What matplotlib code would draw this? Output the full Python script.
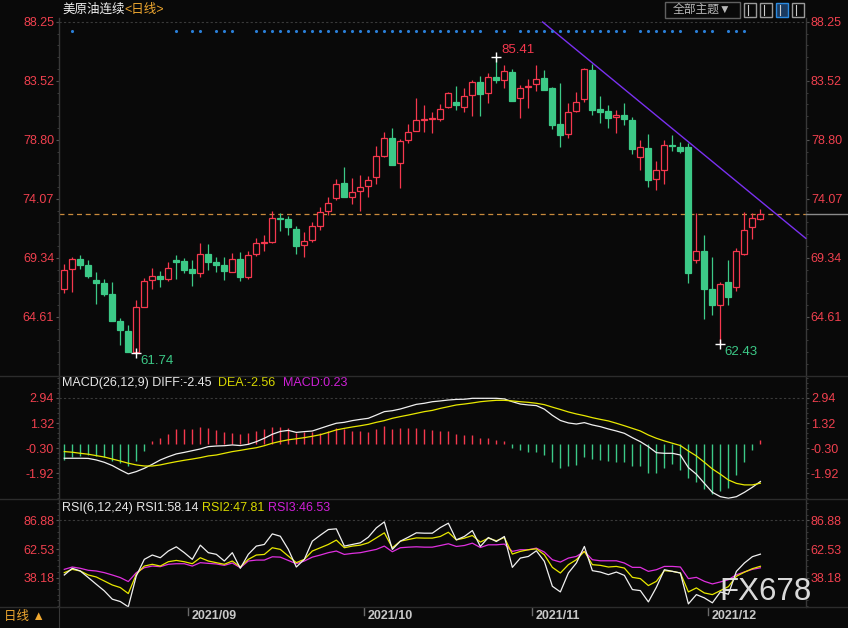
import matplotlib
matplotlib.use('Agg')
import matplotlib.pyplot as plt
import matplotlib.transforms as mtrans
from matplotlib.patches import Rectangle
from matplotlib.lines import Line2D
from matplotlib.ticker import FixedLocator, AutoMinorLocator

plt.rcParams['font.family'] = ['Liberation Sans', 'Noto Sans CJK SC', 'DejaVu Sans']

# ---------------- data ----------------
opens = [66.81, 68.42, 69.25, 68.76, 67.56, 67.32, 66.44, 64.27, 63.47, 61.81,
         65.42, 67.53, 67.88, 67.67, 69.17, 69.08, 68.44, 68.15, 69.65, 69.00,
         68.76, 68.23, 69.25, 67.83, 69.62, 70.55, 70.63, 72.53, 72.42, 71.62,
         70.34, 70.74, 71.86, 73.12, 74.11, 75.31, 74.24, 74.67, 75.07, 75.79,
         77.47, 78.92, 76.91, 78.76, 79.48, 80.42, 80.45, 80.50, 81.41, 81.84,
         81.46, 82.37, 83.44, 82.53, 83.84, 83.63, 84.24, 82.19, 83.01, 83.25,
         83.74, 82.93, 80.05, 79.30, 81.08, 82.04, 84.40, 81.27, 81.11, 80.60,
         80.79, 80.39, 77.39, 78.14, 75.63, 76.35, 78.35, 78.19, 78.22, 69.13,
         69.88, 66.83, 65.52, 67.40, 66.97, 69.61, 71.78, 72.42]
highs = [68.84, 69.38, 69.54, 69.17, 68.20, 67.64, 67.40, 64.51, 63.95, 65.96,
         67.72, 68.52, 68.28, 69.00, 69.57, 69.33, 69.17, 70.53, 70.45, 69.38,
         69.38, 69.73, 69.81, 69.89, 70.90, 71.17, 73.09, 72.90, 72.69, 71.89,
         71.41, 72.18, 73.41, 74.21, 75.66, 76.62, 75.74, 75.95, 75.87, 78.30,
         79.43, 79.75, 78.84, 80.07, 82.15, 81.57, 81.04, 81.68, 82.61, 83.12,
         82.96, 83.60, 83.92, 84.16, 85.41, 84.81, 84.48, 83.20, 83.65, 84.80,
         84.40, 83.07, 83.36, 81.73, 82.61, 84.53, 84.88, 82.31, 81.59, 81.19,
         81.72, 80.63, 78.78, 79.26, 77.10, 78.78, 79.18, 78.60, 78.54, 72.90,
         71.16, 69.40, 67.42, 69.16, 70.12, 72.98, 72.90, 73.22]
lows = [66.54, 66.63, 68.47, 67.69, 65.66, 66.28, 64.28, 62.37, 61.78, 61.74,
        65.37, 66.87, 67.03, 67.51, 67.64, 68.15, 67.08, 67.80, 68.36, 68.20,
        67.59, 68.20, 67.51, 67.67, 69.51, 69.91, 70.55, 71.51, 71.19, 69.67,
        69.38, 70.63, 71.59, 72.80, 73.97, 74.24, 73.65, 73.12, 74.24, 75.28,
        77.45, 76.81, 74.96, 78.57, 79.48, 79.46, 79.38, 80.34, 81.36, 81.22,
        81.06, 80.74, 80.74, 81.78, 83.39, 82.99, 81.94, 80.58, 81.38, 82.75,
        82.83, 79.70, 78.26, 78.98, 81.03, 81.80, 80.81, 80.17, 79.77, 79.32,
        80.01, 77.69, 76.40, 75.04, 74.75, 75.28, 77.90, 77.77, 67.34, 68.89,
        64.40, 64.78, 62.43, 65.58, 66.70, 69.53, 70.87, 72.34]
closes = [68.36, 69.25, 68.79, 67.91, 67.35, 66.46, 64.30, 63.58, 61.80, 65.37,
          67.45, 67.86, 67.67, 68.50, 69.00, 68.36, 68.12, 69.65, 69.03, 68.76,
          68.28, 69.22, 67.83, 69.54, 70.50, 70.60, 72.50, 72.48, 71.83, 70.31,
          70.66, 71.86, 73.04, 73.76, 75.23, 74.24, 74.59, 74.99, 75.55, 77.47,
          78.92, 76.81, 78.70, 79.40, 80.36, 80.47, 80.53, 81.25, 82.53, 81.62,
          82.29, 83.42, 82.51, 83.82, 83.63, 84.30, 81.94, 82.93, 83.09, 83.65,
          82.83, 80.02, 79.22, 81.01, 81.80, 84.45, 81.22, 81.05, 80.57, 80.76,
          80.49, 78.09, 78.19, 75.60, 76.35, 78.35, 78.27, 77.93, 68.14, 69.85,
          66.86, 65.58, 67.21, 66.17, 69.85, 71.54, 72.50, 72.86]

diff = [-0.95, -0.95, -0.95, -0.96, -1.06, -1.21, -1.42, -1.70, -1.96, -1.81,
        -1.60, -1.34, -1.06, -0.85, -0.67, -0.57, -0.46, -0.35, -0.20, -0.16,
        -0.14, -0.09, -0.13, -0.05, 0.12, 0.34, 0.60, 0.78, 0.85, 0.72,
        0.77, 0.81, 0.98, 1.15, 1.31, 1.37, 1.48, 1.56, 1.63, 1.84,
        2.06, 2.12, 2.23, 2.38, 2.53, 2.60, 2.70, 2.75, 2.81, 2.85,
        2.86, 2.92, 2.92, 2.92, 2.92, 2.88, 2.70, 2.55, 2.49, 2.45,
        2.22, 1.82, 1.49, 1.33, 1.26, 1.35, 1.20, 1.09, 0.94, 0.81,
        0.66, 0.38, 0.12, -0.20, -0.59, -0.63, -0.63, -0.74, -1.55, -1.98,
        -2.57, -3.15, -3.43, -3.53, -3.43, -3.15, -2.82, -2.45]
dea = [-0.52, -0.56, -0.63, -0.69, -0.78, -0.87, -1.00, -1.13, -1.27, -1.38,
       -1.45, -1.45, -1.38, -1.27, -1.17, -1.08, -1.00, -0.91, -0.80, -0.74,
       -0.63, -0.52, -0.44, -0.35, -0.27, -0.14, 0.02, 0.14, 0.24, 0.31,
       0.38, 0.47, 0.57, 0.72, 0.88, 0.98, 1.07, 1.15, 1.24, 1.37,
       1.48, 1.63, 1.74, 1.84, 1.95, 2.06, 2.14, 2.27, 2.38, 2.49,
       2.55, 2.62, 2.70, 2.75, 2.79, 2.79, 2.75, 2.70, 2.66, 2.60,
       2.51, 2.35, 2.20, 2.04, 1.91, 1.80, 1.67, 1.56, 1.46, 1.31,
       1.15, 0.98, 0.81, 0.55, 0.34, 0.17, 0.02, -0.13, -0.48, -0.80,
       -1.21, -1.64, -1.98, -2.35, -2.57, -2.67, -2.67, -2.56]
macd_hist = [-1.05, -0.88, -0.80, -0.73, -0.80, -0.90, -1.12, -1.27, -1.48, -1.12,
             -0.47, 0.15, 0.34, 0.62, 0.92, 0.95, 0.92, 1.05, 0.99, 0.88,
             0.77, 0.71, 0.60, 0.67, 0.82, 0.92, 1.10, 1.10, 1.03, 0.67,
             0.77, 0.73, 0.71, 0.80, 0.99, 0.92, 0.82, 0.82, 0.73, 0.95,
             1.14, 0.95, 0.99, 1.03, 0.99, 0.95, 0.88, 0.82, 0.82, 0.60,
             0.56, 0.56, 0.39, 0.39, 0.24, 0.17, -0.26, -0.41, -0.52, -0.52,
             -0.73, -1.16, -1.55, -1.48, -1.38, -0.90, -0.99, -1.05, -1.12, -1.16,
             -1.20, -1.42, -1.48, -1.91, -1.87, -1.55, -1.33, -1.70, -2.24, -2.49,
             -2.92, -3.27, -3.05, -2.88, -2.06, -1.16, -0.41, 0.23]

rsi1 = [40.4, 46.1, 43.8, 38.2, 32.5, 26.9, 19.8, 17.8, 13.3, 39.6,
        53.7, 57.4, 55.1, 60.8, 64.4, 59.4, 53.7, 65.8, 59.4, 58.0,
        52.3, 59.4, 46.1, 58.0, 65.0, 66.4, 75.4, 73.4, 62.2, 47.2,
        53.7, 69.2, 74.3, 79.1, 79.7, 65.0, 66.4, 67.8, 72.6, 80.5,
        85.6, 62.2, 69.2, 72.6, 76.3, 76.0, 76.0, 80.8, 84.5, 70.3,
        73.2, 78.2, 64.7, 72.3, 68.9, 73.2, 46.9, 54.8, 56.2, 61.0,
        52.0, 30.8, 26.0, 42.1, 50.6, 64.7, 44.1, 42.9, 40.7, 42.9,
        40.1, 28.0, 27.1, 17.5, 29.9, 44.9, 43.5, 42.1, 15.8, 23.7,
        20.9, 16.7, 26.0, 24.0, 43.5, 50.6, 56.0, 58.14]
rsi2 = [42.4, 45.2, 43.8, 40.4, 38.7, 35.3, 31.9, 29.7, 24.6, 41.0,
        48.0, 49.5, 48.0, 51.7, 52.8, 51.7, 50.0, 55.1, 52.3, 50.9,
        49.5, 52.3, 47.2, 53.7, 57.4, 57.9, 63.6, 62.2, 56.5, 50.9,
        53.7, 60.8, 63.6, 66.4, 70.1, 63.6, 65.0, 65.8, 67.8, 72.0,
        76.3, 63.6, 69.2, 70.6, 72.0, 71.8, 71.8, 73.2, 76.8, 70.3,
        71.8, 74.0, 68.4, 71.8, 69.5, 72.3, 58.2, 60.5, 61.9, 62.7,
        57.6, 46.9, 42.1, 49.2, 53.4, 60.5, 49.2, 48.6, 47.2, 47.7,
        46.3, 38.4, 37.3, 31.4, 35.0, 44.1, 43.5, 42.1, 26.0, 29.4,
        25.1, 23.7, 27.1, 30.5, 39.3, 42.8, 45.8, 47.81]
rsi3 = [45.2, 47.2, 46.1, 44.4, 43.8, 42.4, 40.4, 38.2, 34.8, 42.4,
        46.6, 48.0, 47.5, 49.5, 50.0, 50.0, 48.0, 50.9, 50.3, 49.8,
        48.6, 50.6, 46.6, 52.3, 53.1, 53.1, 55.9, 55.6, 52.8, 50.0,
        52.3, 55.6, 57.4, 59.4, 60.8, 57.9, 58.8, 59.4, 60.8, 62.2,
        65.0, 60.2, 63.6, 64.1, 64.4, 64.1, 64.1, 65.5, 67.0, 64.7,
        65.5, 67.5, 63.8, 66.1, 66.1, 66.7, 60.5, 61.9, 61.9, 63.3,
        59.9, 53.4, 51.4, 54.8, 56.2, 60.5, 53.4, 52.5, 52.5, 52.5,
        50.6, 46.9, 46.9, 43.5, 44.9, 47.7, 47.7, 47.2, 37.3, 38.4,
        35.0, 32.8, 34.5, 36.4, 40.6, 43.0, 45.2, 46.53]

signal_dots = ([1, 14, 16, 17, 19, 20, 21] + list(range(24, 53)) + [54, 55]
               + list(range(57, 71)) + list(range(72, 78)) + [79, 80, 81] + [83, 84, 85])

month_starts = [16, 38, 59, 81]
month_labels = ['2021/09', '2021/10', '2021/11', '2021/12']

main_ticks = [88.25, 83.52, 78.80, 74.07, 69.34, 64.61]
macd_ticks = [2.94, 1.32, -0.30, -1.92]
rsi_ticks = [86.88, 62.53, 38.18]

trend_x = [59.78, 92.67]
trend_y = [88.25, 70.90]

hi_idx, lo1_idx, lo2_idx = 54, 9, 82

# ---------------- style ----------------
BG = '#090909'
RED = '#f5384e'
GREEN = '#3cc987'
TICKRED = '#f0404e'
GRID = '#3a3a3a'
W, H = 848, 628

fig = plt.figure(figsize=(W / 100, H / 100), dpi=100, facecolor=BG)


def pos(x0, y0, x1, y1):
    return [x0 / W, 1 - y1 / H, (x1 - x0) / W, (y1 - y0) / H]


n = len(closes)
idx = list(range(n))
XL = (-0.66, 92.7)


def style_ax(ax, ticks, labels):
    ax.set_facecolor(BG)
    ax.set_xlim(*XL)
    for s in ['top', 'bottom']:
        ax.spines[s].set_visible(False)
    for s in ['left', 'right']:
        ax.spines[s].set_color('#383838')
        ax.spines[s].set_linewidth(1)
    ax.set_xticks([])
    ax.yaxis.set_major_locator(FixedLocator(ticks))
    ax.set_yticklabels(labels)
    ax.yaxis.set_minor_locator(AutoMinorLocator(5))
    ax.tick_params(axis='y', which='major', left=True, right=True, labelleft=True,
                   labelright=True, length=2.5, width=0.8, color='#555555',
                   labelcolor=TICKRED, labelsize=9, pad=1)
    ax.tick_params(axis='y', which='minor', left=True, right=True, length=1.5,
                   width=0.6, color='#444444')


# ---- main candlestick panel ----
ax = fig.add_axes(pos(59, 18, 806, 376))
ax.set_ylim(59.86, 88.57)
style_ax(ax, main_ticks, ['%.2f' % t for t in main_ticks])
ax.axhline(main_ticks[0], color=GRID, lw=0.8, dashes=(2, 2))

bw = 0.75
for i in idx:
    o, h, l, c = opens[i], highs[i], lows[i], closes[i]
    if c >= o:
        ax.add_patch(Rectangle((i - bw / 2, o), bw, max(c - o, 0.02), facecolor=BG,
                               edgecolor=RED, lw=0.9, zorder=3))
        ax.plot([i, i], [c, h], color=RED, lw=0.9, zorder=2, solid_capstyle='butt')
        ax.plot([i, i], [l, o], color=RED, lw=0.9, zorder=2, solid_capstyle='butt')
    else:
        ax.plot([i, i], [l, h], color=GREEN, lw=0.9, zorder=2, solid_capstyle='butt')
        ax.add_patch(Rectangle((i - bw / 2, c), bw, max(o - c, 0.02), facecolor=GREEN,
                               edgecolor=GREEN, lw=0.9, zorder=3))

ax.axhline(closes[-1], color='#c98a3c', lw=0.9, dashes=(4, 3), zorder=1)
ax.plot(trend_x, trend_y, color='#7a30f0', lw=1.0, zorder=4, clip_on=False)

blend = mtrans.blended_transform_factory(ax.transData, ax.transAxes)
ax.scatter(signal_dots, [0.9637] * len(signal_dots), transform=blend, s=5,
           marker='o', color='#2a7fd8', linewidths=0, zorder=5)

for k, col, off in [(hi_idx, RED, (22, 7)), (lo1_idx, GREEN, (21, -8)), (lo2_idx, GREEN, (21, -8))]:
    yv = highs[k] if k == hi_idx else lows[k]
    ax.plot([k], [yv], marker='+', color='white', ms=7, mew=1.0, zorder=6)
    ax.annotate('%.2f' % yv, xy=(k, yv), xytext=off, textcoords='offset pixels',
                color=col, fontsize=9.5, ha='center', va='center', zorder=6)

# ---- MACD panel ----
axm = fig.add_axes(pos(59, 376, 806, 499))
axm.set_ylim(-3.58, 4.36)
style_ax(axm, macd_ticks, ['%.2f' % t for t in macd_ticks])
axm.axhline(macd_ticks[0], color=GRID, lw=0.8, dashes=(2, 2))
axm.vlines(idx, 0, macd_hist, colors=[RED if v > 0 else GREEN for v in macd_hist], lw=1.0)
axm.plot(idx, diff, color='#f0f0f0', lw=0.9)
axm.plot(idx, dea, color='#e8e800', lw=0.9)

# ---- RSI panel ----
axr = fig.add_axes(pos(59, 499, 806, 607))
axr.set_ylim(13.15, 105.1)
style_ax(axr, rsi_ticks, ['%.2f' % t for t in rsi_ticks])
axr.axhline(rsi_ticks[0], color=GRID, lw=0.8, dashes=(2, 2))
axr.plot(idx, rsi3, color='#e030e0', lw=0.9, clip_on=False)
axr.plot(idx, rsi2, color='#e8e800', lw=0.9, clip_on=False)
axr.plot(idx, rsi1, color='#f0f0f0', lw=0.9, clip_on=False)

# ---- date strip ----
axd = fig.add_axes(pos(59, 607, 806, 628))
axd.set_facecolor(BG)
axd.set_xlim(*XL)
axd.set_ylim(0, 1)
axd.set_xticks([])
axd.set_yticks([])
for s in ['top', 'bottom', 'right']:
    axd.spines[s].set_visible(False)
axd.spines['left'].set_color('#383838')
for m, lab in zip(month_starts, month_labels):
    axd.plot([m - 0.5, m - 0.5], [1, 0.6], color='#6a6a6a', lw=1)
    axd.annotate(lab, xy=(m - 0.5, 0.55), xytext=(3, 0), textcoords='offset pixels',
                 color='#c8c8c8', fontsize=9, fontweight='bold', ha='left', va='center')

# ---- separators ----
for yy in [376, 499, 607]:
    fig.add_artist(Line2D([0, 1], [1 - yy / H, 1 - yy / H], color='#2c2c2c', lw=1))

# extension of last price line into right axis
fig.canvas.draw()
ypix = ax.transData.transform((0, closes[-1]))[1]
fig.add_artist(Line2D([806 / W, 1], [ypix / H, ypix / H], color='#8a8a8a', lw=1))

# ---- titles ----
t1 = fig.text(62 / W, 1 - 10 / H, '美原油连续', color='#f0f0f0', fontsize=9, ha='left', va='center')
a2 = ax.annotate('<日线>', xy=(1, 0.5), xycoords=t1, color='#f0a830', fontsize=9,
                 ha='left', va='center', annotation_clip=False)

m1 = fig.text(62 / W, 1 - 383 / H, 'MACD(26,12,9) DIFF:-2.45  ', color='#e8e8e8', fontsize=9,
              ha='left', va='center')
m2 = axm.annotate('DEA:-2.56  ', xy=(1, 0.5), xycoords=m1, color='#d8d800', fontsize=9,
                  ha='left', va='center', annotation_clip=False)
m3 = axm.annotate('MACD:0.23', xy=(1, 0.5), xycoords=m2, color='#d020d8', fontsize=9,
                  ha='left', va='center', annotation_clip=False)

r1 = fig.text(62 / W, 1 - 508 / H, 'RSI(6,12,24) RSI1:58.14 ', color='#e8e8e8', fontsize=9,
              ha='left', va='center')
r2 = axr.annotate('RSI2:47.81 ', xy=(1, 0.5), xycoords=r1, color='#d8d800', fontsize=9,
                  ha='left', va='center', annotation_clip=False)
r3 = axr.annotate('RSI3:46.53', xy=(1, 0.5), xycoords=r2, color='#d020d8', fontsize=9,
                  ha='left', va='center', annotation_clip=False)

fig.text(4 / W, 1 - 617 / H, '日线 ▲', color='#f0a830', fontsize=9, ha='left', va='center')

# buttons top right
fig.add_artist(Rectangle((665 / W, 1 - 18 / H), 75 / W, 16 / H, transform=fig.transFigure,
                         facecolor=BG, edgecolor='#606060', lw=1))
fig.text(702 / W, 1 - 10 / H, '全部主题▼', color='#b8b8b8', fontsize=8.5, ha='center', va='center')
for k, x0 in enumerate([744, 760, 776, 792]):
    ec = '#2a8ae0' if k == 2 else '#9a9a9a'
    fig.add_artist(Rectangle((x0 / W, 1 - 17 / H), 12 / W, 14 / H, transform=fig.transFigure,
                             facecolor='#1a3a60' if k == 2 else BG, edgecolor=ec, lw=1))
    fig.add_artist(Line2D([(x0 + 4) / W, (x0 + 4) / W], [1 - 15 / H, 1 - 5 / H], color='#cccccc', lw=0.8))

# watermark
fig.text(765 / W, 1 - 592 / H, 'FX678', color='#e6e6e6', fontsize=22.5, ha='center', va='center',
         alpha=0.95, zorder=10)

fig.savefig('out.png', dpi=100, facecolor=BG)
